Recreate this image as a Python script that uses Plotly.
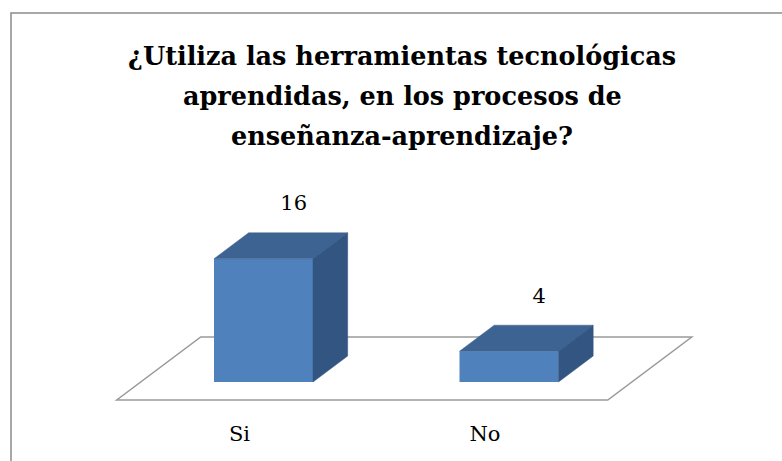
import plotly.graph_objects as go

# ---- data ----
categories = ["Si", "No"]
values = [16, 4]
title_lines = [
    "¿Utiliza las herramientas tecnológicas",
    "aprendidas, en los procesos de",
    "enseñanza-aprendizaje?",
]

# ---- geometry / style (oblique 3D projection) ----
W, H = 782, 461
MB = 55                      # bottom margin (for category labels)
PLOT_H = H - MB
PX_X = 245.5                 # pixels per category step
PX_Y = 7.7                   # pixels per value unit
X0_PX = 263.5                # pixel x of category 0 (bar front plane)
Y0_PX = 382.0                # pixel y of value 0 (bar front plane)
FDX = 84.0 / PX_X            # full floor depth vector, x (data units)
FDY = 63.0 / PX_Y            # full floor depth vector, y (data units)
D0 = 18.0 / 63.0             # bar front depth
D1 = 44.0 / 63.0             # bar back depth
HW = 49.5 / PX_X             # bar half width

FRONT = "#4f81bd"
TOP = "#3c6391"
SIDE = "#325581"
FONT = "DejaVu Serif"


def proj(x, y, d):
    return x + (d - D0) * FDX, y + (d - D0) * FDY


x_range = [-X0_PX / PX_X, (W - X0_PX) / PX_X]
y_range = [-(PLOT_H - Y0_PX) / PX_Y, Y0_PX / PX_Y]

fig = go.Figure()

# front faces: real bars
fig.add_trace(go.Bar(
    x=list(range(len(categories))), y=values, width=2 * HW,
    marker=dict(color=FRONT, line=dict(width=0)),
    hoverinfo="skip", showlegend=False,
))

# top and side faces
for i, v in enumerate(values):
    top = [proj(i - HW, v, D0), proj(i + HW, v, D0), proj(i + HW, v, D1), proj(i - HW, v, D1)]
    side = [proj(i + HW, 0, D0), proj(i + HW, v, D0), proj(i + HW, v, D1), proj(i + HW, 0, D1)]
    for pts, col in ((top, TOP), (side, SIDE)):
        xs = [p[0] for p in pts] + [pts[0][0]]
        ys = [p[1] for p in pts] + [pts[0][1]]
        fig.add_trace(go.Scatter(
            x=xs, y=ys, mode="lines", fill="toself", fillcolor=col,
            line=dict(color=col, width=0.5), hoverinfo="skip", showlegend=False,
        ))

# value labels above the bars
lx = [i + 0.87 * (D1 - D0) * FDX for i in range(len(values))]
ly = [v + (D1 - D0) * FDY + 3.6 for v in values]
fig.add_trace(go.Scatter(
    x=lx, y=ly, mode="text", text=[str(v) for v in values],
    textposition="middle center", textfont=dict(family=FONT, size=21, color="#000000"),
    hoverinfo="skip", showlegend=False, cliponaxis=False,
))

# floor (below the traces)
n = len(categories)
floor = [proj(-0.5, 0, 0), proj(n - 0.5, 0, 0), proj(n - 0.5, 0, 1), proj(-0.5, 0, 1)]
path = "M " + " L ".join(f"{x},{y}" for x, y in floor) + " Z"
shapes = [dict(type="path", path=path, xref="x", yref="y", layer="below",
               line=dict(color="#9a9a9a", width=1.5), fillcolor="rgba(0,0,0,0)")]

# chart border
shapes.append(dict(type="rect", xref="paper", yref="paper",
                   x0=11 / W, x1=1.05, y0=-0.3, y1=(PLOT_H - 13) / PLOT_H,
                   line=dict(color="#8c8c8c", width=1.5), fillcolor="rgba(0,0,0,0)",
                   layer="below"))

# title lines
annotations = []
centers = [56, 96, 136]
for t, cy in zip(title_lines, centers):
    annotations.append(dict(
        text=f"<b>{t}</b>", x=402 / W, y=(PLOT_H - cy) / PLOT_H,
        xref="paper", yref="paper", xanchor="center", yanchor="middle",
        showarrow=False, font=dict(family=FONT, size=25.5, color="#000000"),
    ))

fig.update_layout(
    width=W, height=H, autosize=False,
    margin=dict(l=0, r=0, t=0, b=MB, pad=0),
    paper_bgcolor="white", plot_bgcolor="white",
    showlegend=False, shapes=shapes, annotations=annotations,
    xaxis=dict(range=x_range, showgrid=False, zeroline=False, showline=False,
               tickmode="array",
               tickvals=[i - D0 * FDX for i in range(n)], ticktext=categories,
               ticks="", ticklabelstandoff=13,
               tickfont=dict(family=FONT, size=21, color="#000000"), fixedrange=True),
    yaxis=dict(range=y_range, visible=False, showgrid=False, zeroline=False, fixedrange=True),
)

fig.write_html("out.html", config={"displayModeBar": False},
               post_script="document.body.style.margin='0';")
